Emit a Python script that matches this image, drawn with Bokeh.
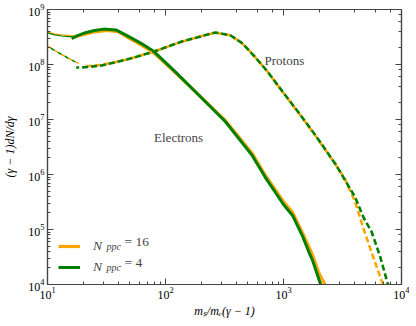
from bokeh.plotting import figure
from bokeh.models import LogAxis, LogTicker, Label, Legend, LegendItem, CustomJSTickFormatter
from bokeh.embed import file_html
from bokeh.resources import INLINE

# ---------------- data ----------------
# electrons, thin early part
e_thin_x = [10, 11.5, 13.2, 15, 16.6]
e16_thin_y = [3.9e8, 3.6e8, 3.45e8, 3.38e8, 3.35e8]
e4_thin_y = [3.75e8, 3.45e8, 3.3e8, 3.22e8, 3.2e8]

# electrons, N_ppc = 4 (green)
e4_x = [16, 18, 21, 25, 30, 38, 48.5, 62.6, 80, 125, 193, 321, 544, 703, 1000, 1193, 1453, 1650, 1767, 2065]
e4_y = [3.0e8, 3.35e8, 3.8e8, 4.15e8, 4.4e8, 4.25e8, 3.25e8, 2.4e8, 1.72e8, 6.9e7, 2.73e7, 9.2e6,
        2.2e6, 8.8e5, 2.85e5, 1.8e5, 7.5e4, 3.8e4, 2.7e4, 1.0e4]

# electrons, N_ppc = 16 (orange)
e16_x = [16, 18, 21, 25, 32, 40, 48.5, 62.6, 80, 125, 193, 321, 544, 703, 1000, 1193, 1453, 1767, 2000, 2240]
e16_y = [3.0e8, 3.3e8, 3.6e8, 3.9e8, 4.15e8, 3.95e8, 3.05e8, 2.25e8, 1.62e8, 6.7e7, 2.75e7, 9.6e6,
         2.4e6, 9.6e5, 3.2e5, 2.05e5, 8.6e4, 3.4e4, 1.6e4, 1.0e4]

# protons, thin early part
p_thin_x = [10, 11.5, 13.2, 15, 17, 18.5]
p_thin_y = [2.15e8, 1.8e8, 1.52e8, 1.3e8, 1.13e8, 1.05e8]

# protons, N_ppc = 4 (green)
p4_x = [17.5, 20.7, 28.8, 47, 80, 138, 200, 264, 354, 440, 494, 600, 731, 980, 1342, 1872, 2772,
        4018, 4800, 5570, 6600, 7674]
p4_y = [8.8e7, 8.9e7, 9.6e7, 1.23e8, 1.72e8, 2.62e8, 3.25e8, 3.82e8, 3.4e8, 2.5e8, 1.95e8, 1.23e8,
        7.46e7, 3.23e7, 1.34e7, 5.12e6, 1.52e6, 3.98e5, 1.6e5, 9.2e4, 3.2e4, 1.0e4]

# protons, N_ppc = 16 (orange)
p16_x = [21, 28.8, 47, 80, 138, 200, 264, 354, 440, 494, 600, 731, 980, 1342, 1872, 2772, 3300,
         4018, 4855, 5800, 6966]
p16_y = [9.3e7, 9.8e7, 1.23e8, 1.72e8, 2.62e8, 3.25e8, 3.8e8, 3.4e8, 2.5e8, 1.95e8, 1.23e8,
         7.46e7, 3.2e7, 1.32e7, 5.0e6, 1.5e6, 8.5e5, 3.3e5, 9.2e4, 3.0e4, 1.0e4]

ORANGE = "#FFA500"
GREEN = "#008000"
SERIF = "Liberation Serif"
AXC = "#444444"

p = figure(frame_width=354, frame_height=275, x_axis_type="log", y_axis_type="log",
           x_range=(10, 1e4), y_range=(1e4, 1e9),
           output_backend="svg", toolbar_location=None,
           min_border_left=38, min_border_right=8, min_border_top=9, min_border_bottom=34)
p.xgrid.visible = False
p.ygrid.visible = False
p.outline_line_color = AXC
p.outline_line_width = 1.2

xa = p.below[0]
ya = p.left[0]

# thin early parts
p.line(e_thin_x, e16_thin_y, line_color=ORANGE, line_width=1.2)
p.line(e_thin_x, e4_thin_y, line_color=GREEN, line_width=1.2)
p.line(p_thin_x, p_thin_y, line_color=ORANGE, line_width=1.5, line_dash="4 4")
p.line(p_thin_x, p_thin_y, line_color=GREEN, line_width=1.5, line_dash="4 4", line_dash_offset=4)

# electrons
r_e16 = p.line(e16_x, e16_y, line_color=ORANGE, line_width=3.2)
r_e4 = p.line(e4_x, e4_y, line_color=GREEN, line_width=3.0)

# protons
p.line(p16_x, p16_y, line_color=ORANGE, line_width=2.6, line_dash="6 3")
p.line(p4_x, p4_y, line_color=GREEN, line_width=2.6, line_dash="6 3", line_dash_offset=3)

# extra framing axes
extra = []
for loc in ["above", "right"]:
    ax = LogAxis(ticker=LogTicker(), formatter=CustomJSTickFormatter(code="return ''"),
                 major_label_text_font_size="0px", major_label_standoff=0)
    p.add_layout(ax, loc)
    extra.append(ax)

for ax in [xa, ya] + extra:
    ax.major_tick_in = 6
    ax.major_tick_out = 0
    ax.minor_tick_in = 3
    ax.minor_tick_out = 0
    ax.axis_line_color = AXC
    ax.axis_line_width = 1.2
    ax.major_tick_line_color = AXC
    ax.minor_tick_line_color = AXC

for ax in (xa, ya):
    ax.major_label_text_font = SERIF
    ax.major_label_text_font_size = "12px"
    ax.major_label_text_color = "black"
    ax.axis_label_text_font = SERIF
    ax.axis_label_text_font_style = "italic"
    ax.axis_label_text_font_size = "12px"
    ax.axis_label_text_color = "black"

xa.major_label_standoff = 2
xa.axis_label = "mₛ/mₑ(γ − 1)"
xa.axis_label_standoff = 2
ya.major_label_standoff = 3
ya.axis_label = "(γ − 1)dN/dγ"
ya.axis_label_standoff = 8

# legend
legend = Legend(items=[LegendItem(label="N", renderers=[r_e16]),
                       LegendItem(label="N", renderers=[r_e4])],
                location=(11, 8), padding=5, spacing=3, margin=0,
                glyph_width=22, glyph_height=18, label_standoff=13,
                border_line_color=None, background_fill_alpha=0,
                label_text_font=SERIF, label_text_font_style="italic",
                label_text_font_size="13.5px", label_text_baseline="middle")
p.add_layout(legend)

sub_kw = dict(text_font=SERIF, text_font_style="italic", text_font_size="10px", text_baseline="middle")
eq_kw = dict(text_font=SERIF, text_font_size="13.5px", text_baseline="middle")
p.add_layout(Label(x=31.6, y=5.0e4, text="ppc", **sub_kw))
p.add_layout(Label(x=44.9, y=6.05e4, text="= 16", **eq_kw))
p.add_layout(Label(x=31.6, y=2.08e4, text="ppc", **sub_kw))
p.add_layout(Label(x=44.9, y=2.51e4, text="= 4", **eq_kw))

# curve labels
txt_kw = dict(text_font=SERIF, text_font_size="13px", text_baseline="middle")
p.add_layout(Label(x=80, y=4.7e6, text="Electrons", **txt_kw))
p.add_layout(Label(x=690, y=1.18e8, text="Protons", **txt_kw))

open("out.html", "w").write(file_html(p, INLINE))
